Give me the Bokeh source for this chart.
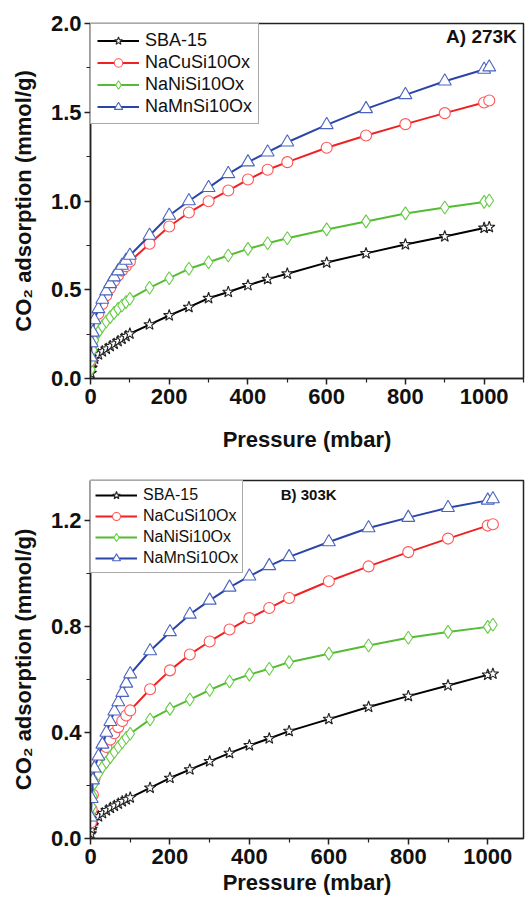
from bokeh.plotting import figure
from bokeh.layouts import column
from bokeh.models import Label, Range1d, FixedTicker, Legend, PrintfTickFormatter
from bokeh.embed import file_html
from bokeh.resources import INLINE

# ---------------- data ----------------
pressure = [1, 3, 6, 10, 20, 30, 40, 50, 60, 70, 80, 90, 100, 150, 200, 250,
            300, 350, 400, 450, 500, 600, 700, 800, 900, 1000, 1013]

# A) 273 K
a_sba15 = [0.03, 0.06, 0.09, 0.111, 0.135, 0.152, 0.167, 0.182, 0.195, 0.21, 0.223, 0.238, 0.252,
           0.304, 0.355, 0.402, 0.452, 0.487, 0.525, 0.56, 0.59, 0.653, 0.705, 0.755, 0.80, 0.848, 0.853]
a_nacu = [0.10, 0.19, 0.25, 0.30, 0.365, 0.42, 0.468, 0.51, 0.55, 0.58, 0.608, 0.633, 0.659,
          0.759, 0.856, 0.935, 0.999, 1.059, 1.121, 1.176, 1.219, 1.30, 1.369, 1.433, 1.495, 1.555, 1.566]
a_nani = [0.05, 0.10, 0.16, 0.215, 0.261, 0.295, 0.321, 0.346, 0.37, 0.392, 0.411, 0.43, 0.449,
          0.511, 0.565, 0.618, 0.655, 0.693, 0.73, 0.762, 0.79, 0.84, 0.885, 0.93, 0.963, 0.995, 1.003]
a_namn = [0.12, 0.20, 0.26, 0.33, 0.392, 0.445, 0.492, 0.533, 0.571, 0.605, 0.637, 0.665, 0.693,
          0.806, 0.918, 1.0, 1.075, 1.153, 1.219, 1.275, 1.331, 1.429, 1.519, 1.598, 1.675, 1.741, 1.754]

# B) 303 K
b_sba15 = [0.018, 0.035, 0.05, 0.068, 0.083, 0.095, 0.106, 0.115, 0.123, 0.131, 0.14, 0.147, 0.154,
           0.191, 0.228, 0.26, 0.291, 0.322, 0.351, 0.377, 0.405, 0.45, 0.496, 0.537, 0.577, 0.617, 0.621]
b_nacu = [0.06, 0.11, 0.165, 0.225, 0.28, 0.315, 0.345, 0.373, 0.397, 0.42, 0.443, 0.464, 0.483,
          0.563, 0.634, 0.694, 0.743, 0.788, 0.831, 0.869, 0.907, 0.97, 1.026, 1.08, 1.131, 1.18, 1.185]
b_nani = [0.09, 0.12, 0.16, 0.209, 0.244, 0.269, 0.288, 0.307, 0.326, 0.345, 0.363, 0.38, 0.395,
          0.449, 0.489, 0.524, 0.56, 0.592, 0.618, 0.64, 0.665, 0.697, 0.728, 0.757, 0.779, 0.798, 0.806]
b_namn = [0.08, 0.15, 0.22, 0.265, 0.31, 0.355, 0.40, 0.44, 0.48, 0.515, 0.55, 0.585, 0.62,
          0.707, 0.779, 0.845, 0.898, 0.947, 0.989, 1.028, 1.062, 1.118, 1.171, 1.21, 1.247, 1.275, 1.28]

series_names = ["SBA-15", "NaCuSi10Ox", "NaNiSi10Ox", "NaMnSi10Ox"]
x_ticks = [0, 200, 400, 600, 800, 1000]
x_minor = [100, 300, 500, 700, 900, 1100]
a_y_ticks = [0.0, 0.5, 1.0, 1.5, 2.0]
a_y_minor = [0.25, 0.75, 1.25, 1.75]
b_y_ticks = [0.0, 0.4, 0.8, 1.2]
b_y_minor = [0.2, 0.6, 1.0]

# styles
line_colors = ["#000000", "#EE2222", "#55BB33", "#2B44A8"]
marker_colors = ["#222222", "#FF5555", "#66CC44", "#4A64C0"]
markers = ["star", "circle", "diamond", "triangle"]
marker_sizes = [12, 11, 13, 13]

FONT = "Liberation Sans"


def make_plot(series, y_max, y_ticks, y_minor, x_max, height, borders, legend_style, tag, tag_pos,
              tag_size, tag_align):
    p = figure(width=532, height=height, output_backend="svg", toolbar_location=None,
               x_range=Range1d(0, x_max), y_range=Range1d(0, y_max),
               min_border_left=borders[0], min_border_right=borders[1],
               min_border_top=borders[2], min_border_bottom=borders[3])
    p.grid.visible = False
    p.outline_line_color = "#222222"
    p.outline_line_width = 1.5
    p.background_fill_color = "white"
    p.border_fill_color = "white"

    items = []
    for i, ys in enumerate(series):
        r1 = p.line(pressure, ys, line_color=line_colors[i], line_width=2)
        r2 = p.scatter(pressure, ys, marker=markers[i], size=marker_sizes[i],
                       line_color=marker_colors[i], fill_color="white", line_width=1.1)
        items.append((series_names[i], [r1, r2]))

    font_size, pad, row_h = legend_style
    leg = Legend(items=items, location="top_left")
    leg.label_text_font = FONT
    leg.label_text_font_size = font_size
    leg.label_text_color = "#111111"
    leg.border_line_color = "#555555"
    leg.border_line_width = 1
    leg.background_fill_alpha = 1
    leg.margin = 0
    leg.padding = pad
    leg.spacing = 1
    leg.glyph_width = 42
    leg.glyph_height = row_h
    leg.label_height = row_h
    leg.label_standoff = 6
    p.add_layout(leg)

    for ax in (p.xaxis[0], p.yaxis[0]):
        ax.axis_line_width = 1.5
        ax.axis_line_color = "#222222"
        ax.major_tick_line_color = "#222222"
        ax.minor_tick_line_color = "#222222"
        ax.major_tick_line_width = 1.5
        ax.minor_tick_line_width = 1.2
        ax.major_tick_out = 6
        ax.major_tick_in = 0
        ax.minor_tick_out = 4
        ax.minor_tick_in = 0
        ax.major_label_text_font = FONT
        ax.major_label_text_font_style = "bold"
        ax.major_label_text_font_size = "22px"
        ax.major_label_text_color = "#111111"
        ax.axis_label_text_font = FONT
        ax.axis_label_text_font_style = "bold"
        ax.axis_label_text_font_size = "22px"
        ax.axis_label_text_color = "#111111"

    p.xaxis[0].ticker = FixedTicker(ticks=x_ticks, minor_ticks=x_minor)
    p.yaxis[0].ticker = FixedTicker(ticks=y_ticks, minor_ticks=y_minor)
    p.yaxis[0].formatter = PrintfTickFormatter(format="%.1f")
    p.xaxis[0].axis_label = "Pressure (mbar)"
    p.yaxis[0].axis_label = "CO\u2082 adsorption (mmol/g)"
    p.xaxis[0].major_label_standoff = 4
    p.yaxis[0].major_label_standoff = 3
    p.yaxis[0].axis_label_standoff = 12

    lab = Label(x=tag_pos[0], y=tag_pos[1], text=tag, text_font=FONT, text_font_style="bold",
                text_font_size=tag_size, text_align=tag_align, text_baseline="middle",
                text_color="#111111")
    p.add_layout(lab)
    return p


p1 = make_plot([a_sba15, a_nacu, a_nani, a_namn], 2.0, a_y_ticks, a_y_minor, 1100, 463,
               (88, 9, 23, 85), ("18px", 6, 21), "A) 273K", (1083, 1.927), "19px", "right")
p1.xaxis[0].axis_label_standoff = 20

p2 = make_plot([b_sba15, b_nacu, b_nani, b_namn], 1.35, b_y_ticks, b_y_minor, 1090, 434,
               (90, 1, 17, 59), ("16px", 4, 20), "B) 303K", (479, 1.298), "15px", "left")
p2.xaxis[0].axis_label_standoff = 3

layout = column(p1, p2, spacing=0)
open("out.html", "w").write(file_html(layout, INLINE))
